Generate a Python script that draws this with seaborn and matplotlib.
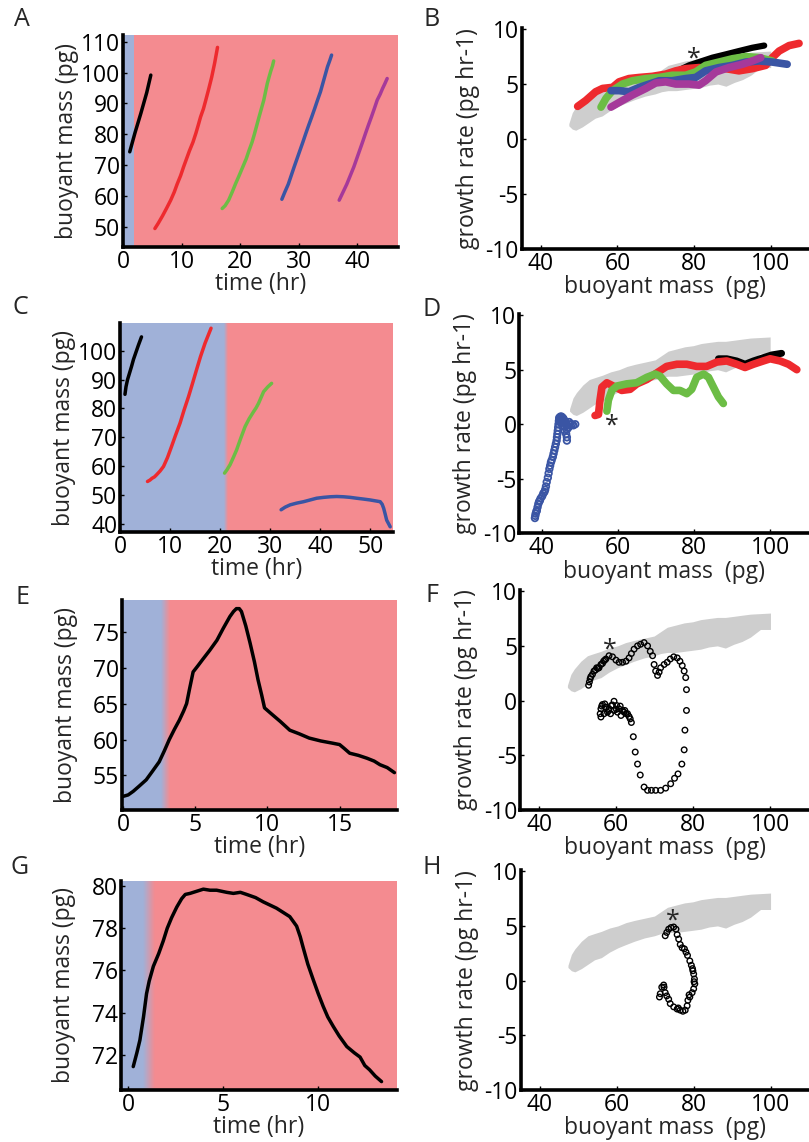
import numpy as np
import matplotlib
matplotlib.use("Agg")
import matplotlib.pyplot as plt
import seaborn as sns
from matplotlib.colors import LinearSegmentedColormap

# ---------------- data ----------------
# Panel A : time (hr) vs buoyant mass (pg)
a_black_t = [1.1, 2.0, 3.0, 4.0, 4.7]
a_black_m = [74.3, 80.5, 86.8, 93.5, 99.2]
a_red_t = [5.4, 6.0, 6.7, 7.4, 8.1, 8.7, 9.2, 9.8, 10.3, 10.8, 11.3, 11.9, 12.4, 12.8, 13.2,
           13.7, 14.1, 14.6, 15.1, 15.6, 16.1]
a_red_m = [49.4, 51.2, 53.5, 56.0, 58.6, 61.2, 63.8, 66.6, 69.4, 72.0, 74.6, 77.4, 80.3,
           82.9, 85.6, 88.3, 91.1, 94.7, 98.5, 103.0, 108.2]
a_green_t = [16.9, 17.4, 18.0, 18.6, 19.2, 19.8, 20.4, 21.0, 21.5, 22.0, 22.4, 22.8, 23.2,
             23.6, 24.0, 24.3, 24.6, 24.9, 25.2, 25.5, 25.7]
a_green_m = [55.9, 56.8, 58.6, 61.2, 64.0, 66.6, 69.3, 72.0, 74.8, 77.4, 80.0, 82.8, 85.6,
             88.3, 91.0, 93.7, 96.4, 98.5, 100.5, 102.2, 103.8]
a_blue_t = [27.1, 27.6, 28.2, 28.7, 29.2, 29.7, 30.2, 30.7, 31.2, 31.7, 32.2, 32.7, 33.2,
            33.7, 34.1, 34.5, 34.9, 35.3, 35.6]
a_blue_m = [58.9, 61.2, 63.8, 66.6, 69.4, 72.1, 74.8, 77.5, 80.3, 83.0, 85.6, 88.3, 91.1,
            93.8, 96.5, 99.2, 101.9, 104.0, 105.7]
a_mag_t = [36.9, 37.5, 38.2, 38.8, 39.4, 39.9, 40.4, 40.9, 41.4, 41.9, 42.4, 42.9, 43.4,
           43.9, 44.3, 44.7, 45.1]
a_mag_m = [58.6, 61.0, 63.8, 66.6, 69.4, 72.1, 74.8, 77.5, 80.3, 83.0, 85.6, 88.3, 91.1,
           93.0, 94.8, 96.4, 98.1]

# Panel C
c_black_t = [1.0, 1.2, 1.5, 1.9, 2.3, 2.7, 3.2, 3.7, 4.3]
c_black_m = [84.9, 87.5, 89.9, 92.2, 94.5, 97.0, 99.5, 102.0, 104.8]
c_red_t = [5.5, 6.0, 6.4, 6.9, 7.3, 8.0, 8.7, 9.5, 10.3, 11.1, 12.0, 12.8, 13.7, 14.5, 15.3,
           16.1, 17.0, 17.6, 18.2]
c_red_m = [54.7, 55.2, 55.8, 56.3, 57.0, 58.3, 59.9, 63.0, 66.8, 70.7, 74.9, 79.4, 84.1,
           88.7, 93.4, 98.0, 102.6, 105.2, 107.8]
c_green_t = [20.9, 21.4, 22.0, 22.6, 23.3, 24.1, 25.0, 25.8, 26.7, 27.2, 27.7, 28.2, 28.7,
             29.5, 30.3]
c_green_m = [57.6, 58.8, 60.5, 62.8, 65.6, 69.5, 73.7, 76.4, 78.9, 80.2, 81.8, 83.8, 85.8,
             87.4, 88.7]
c_blue_t = [32.2, 33.0, 34.0, 35.3, 36.7, 38.0, 39.3, 40.7, 42.0, 43.3, 44.7, 46.0, 47.3,
            48.7, 50.0, 51.0, 52.0, 52.4, 52.7, 53.0, 53.3, 53.7, 54.0]
c_blue_m = [44.9, 45.8, 46.6, 47.2, 47.7, 48.3, 48.9, 49.2, 49.4, 49.5, 49.4, 49.2, 48.9,
            48.6, 48.3, 48.0, 47.7, 46.8, 45.4, 43.4, 41.3, 40.0, 39.0]

# Panel E
e_t = [0.0, 0.35, 0.7, 1.1, 1.6, 2.0, 2.5, 2.85, 3.2, 3.55, 3.9, 4.2, 4.4, 4.6, 4.85, 5.2,
       5.5, 6.0, 6.5, 6.95, 7.4, 7.65, 7.85, 8.05, 8.2, 8.5, 8.8, 9.1, 9.35, 9.6,
       9.8, 10.2, 10.9, 11.55, 12.2, 12.9, 13.7, 14.5, 15.0, 15.3, 15.7, 16.3, 16.9, 17.4,
       17.8, 18.3, 18.8]
e_m = [52.1, 52.3, 52.8, 53.5, 54.4, 55.5, 56.9, 58.4, 60.0, 61.4, 62.7, 64.0, 65.0, 67.0,
       69.4, 70.3, 71.1, 72.4, 73.8, 75.5, 77.1, 77.8, 78.2, 78.2, 77.8, 75.8, 73.4, 70.8,
       68.3, 66.2, 64.4, 63.7, 62.5, 61.3, 60.8, 60.2, 59.8, 59.5, 59.3, 58.8, 58.1, 57.8,
       57.4, 57.0, 56.5, 56.1, 55.4]

# Panel G
g_t = [0.26, 0.45, 0.61, 0.8, 0.96, 1.1, 1.32, 1.6, 1.84, 2.05, 2.28, 2.55, 2.81, 3.0,
       3.25, 3.6, 3.95, 4.3, 4.65, 5.18, 5.53, 5.9, 6.23, 6.7, 7.1, 7.8, 8.5, 8.86, 9.05,
       9.2, 9.45, 9.74, 10.0, 10.26, 10.5, 10.79, 11.1, 11.5, 11.9, 12.2, 12.45, 12.7, 13.0,
       13.33]
g_m = [71.45, 72.1, 72.7, 73.8, 74.9, 75.5, 76.2, 76.8, 77.4, 78.0, 78.5, 79.0, 79.4,
       79.6, 79.65, 79.75, 79.85, 79.8, 79.8, 79.7, 79.65, 79.7, 79.6, 79.45, 79.25, 78.95,
       78.55, 78.1, 77.6, 77.1, 76.3, 75.55, 74.9, 74.3, 73.8, 73.35, 72.9, 72.4, 72.1,
       71.9, 71.5, 71.3, 71.0, 70.74]

# control band (growth rate vs buoyant mass)
band_mass = [47.3, 48.2, 49.1, 50.8, 52.5, 54.2, 56.0, 58.1, 60.3, 62.4, 64.6, 67.2, 69.8,
             71.5, 73.2, 75.4, 77.6, 79.8, 81.9, 84.0, 86.2, 88.3, 90.5, 92.6, 94.8, 97.4, 100.0]
band_low = [1.2, 0.9, 0.8, 1.1, 1.5, 1.9, 2.1, 2.6, 3.0, 3.3, 3.6, 3.9, 4.1,
            4.3, 4.4, 4.4, 4.5, 4.6, 4.7, 4.9, 5.0, 4.8, 5.15, 5.4, 5.8, 6.5, 6.5]
band_high = [1.4, 2.4, 2.9, 3.6, 4.1, 4.3, 4.5, 4.8, 5.0, 5.3, 5.5, 5.7, 5.9,
             6.3, 6.7, 6.9, 7.1, 7.2, 7.4, 7.5, 7.6, 7.6, 7.7, 7.8, 7.9, 7.95, 8.0]

# Panel B : buoyant mass vs growth rate
b_black_x = [75.7, 78.7, 81.3, 84.8, 88.3, 91.7, 95.2, 98.3]
b_black_y = [6.2, 6.7, 7.0, 7.4, 7.7, 8.0, 8.3, 8.5]
b_red_x = [49.6, 51.7, 54.3, 56.1, 58.7, 60.4, 63.0, 65.7, 69.1, 72.6, 75.2, 77.8, 81.3,
           84.8, 88.3, 91.7, 95.2, 98.7, 100.4, 102.2, 104.8, 107.4]
b_red_y = [2.97, 3.5, 4.3, 4.6, 4.7, 5.2, 5.5, 5.6, 5.7, 5.9, 6.2, 6.4, 6.5,
           6.4, 6.4, 6.2, 6.4, 6.7, 7.4, 8.0, 8.5, 8.7]
b_green_x = [55.7, 57.0, 58.7, 61.3, 63.9, 67.4, 70.9, 74.3, 77.8, 80.4, 83.0, 86.5, 90.0,
             93.5, 97.0, 100.4]
b_green_y = [2.9, 3.7, 4.4, 5.0, 5.3, 5.5, 5.6, 5.8, 5.8, 6.1, 6.7, 7.0, 7.3, 7.5, 7.4, 7.1]
b_blue_x = [58.3, 60.4, 63.0, 65.7, 68.3, 70.9, 74.3, 77.8, 80.4, 83.0, 86.5, 90.0, 93.5,
            97.0, 100.4, 104.3]
b_blue_y = [4.4, 4.4, 4.3, 4.7, 5.0, 5.3, 5.3, 5.5, 5.6, 6.2, 6.5, 6.7, 7.0, 7.1, 7.0, 6.8]
b_mag_x = [58.3, 61.3, 63.9, 67.4, 70.0, 72.6, 75.2, 78.7, 81.3, 83.0, 85.7, 89.1, 92.6,
           95.2, 97.4]
b_mag_y = [2.9, 3.5, 4.0, 4.6, 5.1, 5.2, 5.0, 5.0, 4.9, 5.3, 6.1, 6.5, 6.8, 7.1, 7.4]

# Panel D
d_red_x = [54.0, 54.9, 55.3, 55.8, 57.1, 58.8, 61.0, 63.2, 65.0, 67.6, 70.2, 72.8, 75.5,
           78.1, 80.7, 83.3, 86.0, 88.6, 91.2, 93.4, 95.6, 98.2, 100.0, 102.6, 104.8, 107.0]
d_red_y = [0.8, 0.9, 2.2, 3.4, 3.8, 3.5, 3.1, 3.2, 3.7, 4.1, 4.7, 5.3, 5.5,
           5.5, 5.3, 5.3, 5.7, 5.8, 5.5, 5.2, 5.5, 5.8, 6.0, 5.8, 5.5, 5.0]
d_black_x = [86.4, 88.6, 91.2, 93.4, 95.6, 98.2, 100.4, 103.0]
d_black_y = [6.0, 6.0, 5.8, 5.5, 5.8, 6.1, 6.35, 6.5]
d_green_x = [57.1, 57.5, 58.4, 59.7, 62.3, 64.9, 67.6, 69.8, 71.1, 72.8, 74.6, 76.3, 78.1,
             79.4, 80.7, 82.5, 83.8, 85.1, 86.4, 87.7]
d_green_y = [1.2, 2.2, 3.1, 3.5, 3.7, 3.8, 4.3, 4.6, 4.4, 3.7, 3.1, 3.1, 2.8,
             3.2, 4.3, 4.6, 4.3, 3.4, 2.5, 1.9]
d_blue_x = [38.2, 38.3, 38.4, 38.6, 38.7, 38.9, 39.1, 39.3, 39.5, 39.7, 40.1, 40.4, 40.7,
            40.9, 41.1, 41.3, 41.6, 41.8, 42.0, 42.2, 42.4, 42.6, 42.9, 43.1, 43.3, 43.5,
            43.7, 43.9, 44.0, 44.1, 44.2, 44.3, 44.4, 44.5, 44.6, 44.9, 45.2, 45.5, 45.7,
            46.1, 46.6, 46.6, 46.6, 46.6, 47.0, 47.4, 47.9, 48.3, 48.8, 44.8, 45.0, 45.3,
            45.5, 45.8, 46.0, 46.3, 46.4, 46.9, 47.2, 44.6, 45.1, 45.6, 46.2]
d_blue_y = [-8.6, -8.4, -8.2, -8.0, -7.9, -7.6, -7.3, -7.1, -7.0, -6.8, -6.6, -6.35, -6.2,
            -6.0, -5.7, -5.3, -4.9, -4.5, -4.1, -3.8, -3.5, -3.3, -3.0, -2.7, -2.4, -2.1,
            -1.8, -1.5, -1.2, -0.9, -0.6, -0.3, 0.0, 0.3, 0.6, 0.7, 0.7, 0.6, 0.5,
            0.3, -0.1, -0.5, -1.2, -1.5, -0.3, 0.0, 0.0, -0.1, 0.0, 0.4, 0.1, 0.3,
            -0.2, 0.2, -0.6, 0.0, -0.9, -0.3, 0.2, 0.5, 0.5, 0.4, 0.2]

# Panel F
f_x = [52.8, 53.0, 53.2, 53.4, 53.8, 54.2, 54.6, 54.9, 55.2, 55.5, 56.0, 56.4, 56.7, 57.0,
       57.3, 58.1, 59.0, 59.9, 60.7, 61.6, 62.5, 63.3, 63.9, 64.6, 65.5, 66.3, 67.2,
       68.1, 68.8, 69.4, 69.8, 70.2, 70.7, 71.1, 71.5, 72.4, 73.2, 74.0, 74.9, 75.8,
       76.5, 77.1, 77.6, 78.0, 78.2, 78.2, 77.8, 77.6, 77.0, 76.0, 75.1, 74.1, 72.8,
       71.5, 70.2, 69.1, 68.1, 67.2, 66.2, 65.5, 64.9, 64.4, 63.9, 63.3, 62.5, 61.6,
       60.7, 60.1, 59.4, 58.7, 58.1, 57.3, 56.4, 56.0, 55.8, 56.0, 56.8, 57.7, 58.5,
       59.4, 60.3, 61.2, 62.0, 62.9, 63.6, 56.2, 57.0, 58.0, 59.0, 60.0, 61.0, 62.2]
f_y = [1.4, 1.7, 2.0, 2.2, 2.4, 2.7, 2.8, 3.0, 2.95, 3.0, 3.3, 3.4, 3.6, 3.7,
       3.8, 4.1, 4.0, 3.7, 3.5, 3.5, 3.6, 3.9, 4.3, 4.7, 5.0, 5.15, 5.3,
       5.0, 4.5, 4.1, 3.3, 2.7, 2.3, 2.6, 3.0, 3.3, 3.5, 3.8, 4.0, 3.9,
       3.6, 3.2, 2.7, 2.1, 1.0, -0.9, -2.7, -4.5, -5.8, -6.7, -7.1, -7.6, -8.0,
       -8.2, -8.2, -8.2, -8.2, -7.9, -6.8, -5.8, -4.7, -3.3, -2.0, -1.45, -1.2, -0.9,
       -0.75, -0.45, -0.06, -0.45, -0.75, -0.6, -0.36, -0.75, -1.2, -1.5, -1.2, -1.06, -1.2,
       -0.9, -1.06, -1.36, -1.06, -1.2, -1.67, -0.5, -0.3, -0.9, -0.4, -0.8, -0.5, -0.9]

# Panel H
h_x = [72.6, 73.0, 73.5, 74.1, 74.8, 75.4, 75.7, 76.1, 76.5, 77.0, 77.6, 78.0, 78.4, 79.0,
       79.4, 79.7, 80.0, 80.2, 80.3, 80.0, 79.6, 79.0, 78.5, 78.3, 77.8, 77.2, 76.5, 75.7,
       74.8, 73.9, 73.5, 73.0, 72.6, 72.3, 72.2, 71.7, 71.3, 71.1, 79.8, 80.1, 78.8, 76.0]
h_y = [4.1, 4.4, 4.7, 4.85, 4.9, 4.7, 4.2, 3.8, 3.3, 3.0, 2.9, 2.6, 2.3, 1.8,
       1.4, 1.1, 0.6, 0.15, -0.3, -0.75, -1.1, -1.5, -1.8, -2.3, -2.7, -2.8, -2.7, -2.6,
       -2.4, -2.1, -1.7, -1.4, -1.1, -0.6, -0.4, -0.6, -1.2, -1.5, 0.9, -0.1, -1.3, -2.5]

# asterisk positions (mass, growth rate)
star_b = (80.0, 7.9)
star_d = (58.4, 0.5)
star_f = (58.4, 5.3)
star_h = (74.6, 6.1)

# ---------------- style ----------------
sns.set_style("ticks")
plt.rcParams['font.family'] = ['Open Sans', 'DejaVu Sans']
plt.rcParams['axes.unicode_minus'] = False

RED = '#EE2A2E'
GREEN = '#6CBD45'
BLUE = '#3A55A4'
MAG = '#A5399A'
BG_BLUE = '#A0B1D8'
BG_RED = '#F48B90'
BAND = '#CECECE'
FS = 16.5

bg_cmap = LinearSegmentedColormap.from_list('bg', [BG_BLUE, BG_RED])

fig = plt.figure(figsize=(8.09, 11.42), dpi=100)


def style(ax, xlim, ylim, xticks, yticks, xlabel, ylabel, ylab_x):
    ax.set_xlim(*xlim)
    ax.set_ylim(*ylim)
    ax.set_xticks(xticks)
    ax.set_yticks(yticks)
    sns.despine(ax=ax)
    for s in ('left', 'bottom'):
        ax.spines[s].set_linewidth(2.6)
        ax.spines[s].set_color('black')
    ax.tick_params(direction='in', length=3, width=1, labelsize=FS, pad=2, colors='black')
    ax.set_xlabel(xlabel, fontsize=FS)
    ax.set_ylabel(ylabel, fontsize=FS)
    ax.xaxis.set_label_coords(0.5, -0.12)
    ax.xaxis.label.set_va('top')
    ax.yaxis.set_label_coords(ylab_x, 0.5)


def background(ax, blue_end, red_start, xlim, ylim):
    ax.axvspan(xlim[0], blue_end, color=BG_BLUE, lw=0, zorder=0)
    ax.axvspan(red_start, xlim[1], color=BG_RED, lw=0, zorder=0)
    if red_start > blue_end:
        grad = np.linspace(0, 1, 64).reshape(1, -1)
        ax.imshow(grad, extent=[blue_end, red_start, ylim[0], ylim[1]], aspect='auto',
                  cmap=bg_cmap, zorder=0, interpolation='bilinear')


def line(ax, x, y, color, lw=2.5):
    sns.lineplot(x=x, y=y, sort=False, estimator=None, color=color, lw=lw, ax=ax,
                 solid_capstyle='round', solid_joinstyle='round', zorder=3)


def circles(ax, x, y, color, s=14, lw=0.9):
    ax.scatter(x, y, s=s, facecolors='none', edgecolors=color, linewidths=lw, zorder=4)


def band(ax):
    ax.fill_between(band_mass, band_low, band_high, color=BAND, lw=0, zorder=1)


def star(ax, pos):
    ax.annotate('*', xy=pos, xytext=(0, -10), textcoords='offset points',
                ha='center', va='baseline', fontsize=18, zorder=6)


left_x = 'time (hr)'
left_y = 'buoyant mass (pg)'
right_x = 'buoyant mass  (pg)'
right_y = 'growth rate (pg hr-1)'
r_xlim = (35, 110)
r_ylim = (-10, 10.1)
r_xt = [40, 60, 80, 100]
r_yt = [-10, -5, 0, 5, 10]

# ---- A ----
axA = fig.add_axes([0.1517, 0.7837, 0.3399, 0.1856])
xl, yl = (-0.1, 46.9), (43.4, 112.2)
background(axA, 1.9, 1.9, xl, yl)
line(axA, a_black_t, a_black_m, 'black')
line(axA, a_red_t, a_red_m, RED)
line(axA, a_green_t, a_green_m, GREEN)
line(axA, a_blue_t, a_blue_m, BLUE)
line(axA, a_mag_t, a_mag_m, MAG)
style(axA, xl, yl, [0, 10, 20, 30, 40], [50, 60, 70, 80, 90, 100, 110], left_x, left_y, -0.16)

# ---- B ----
axB = fig.add_axes([0.6449, 0.7820, 0.3551, 0.1935])
band(axB)
line(axB, b_black_x, b_black_y, 'black', lw=4.5)
line(axB, b_red_x, b_red_y, RED, lw=5.5)
line(axB, b_green_x, b_green_y, GREEN, lw=5.5)
line(axB, b_blue_x, b_blue_y, BLUE, lw=5.5)
line(axB, b_mag_x, b_mag_y, MAG, lw=5.5)
star(axB, star_b)
style(axB, r_xlim, r_ylim, r_xt, r_yt, right_x, right_y, -0.145)

# ---- C ----
axC = fig.add_axes([0.1483, 0.5339, 0.3371, 0.1835])
xl, yl = (0, 54.5), (37.1, 109.7)
background(axC, 20.8, 21.5, xl, yl)
line(axC, c_black_t, c_black_m, 'black')
line(axC, c_red_t, c_red_m, RED)
line(axC, c_green_t, c_green_m, GREEN)
line(axC, c_blue_t, c_blue_m, BLUE)
style(axC, xl, yl, [0, 10, 20, 30, 40, 50], [40, 50, 60, 70, 80, 90, 100], left_x, left_y, -0.16)

# ---- D ----
axD = fig.add_axes([0.6419, 0.5330, 0.3581, 0.1920])
band(axD)
line(axD, d_black_x, d_black_y, 'black', lw=5)
line(axD, d_red_x, d_red_y, RED, lw=5.5)
line(axD, d_green_x, d_green_y, GREEN, lw=5.5)
circles(axD, d_blue_x, d_blue_y, BLUE, s=22, lw=1.3)
star(axD, star_d)
style(axD, (34.1, 110.2), r_ylim, r_xt, r_yt, right_x, right_y, -0.145)

# ---- E ----
axE = fig.add_axes([0.1504, 0.2907, 0.3407, 0.1839])
xl, yl = (-0.1, 19.0), (50.2, 79.4)
background(axE, 2.6, 3.2, xl, yl)
line(axE, e_t, e_m, 'black')
style(axE, xl, yl, [0, 5, 10, 15], [55, 60, 65, 70, 75], left_x, left_y, -0.16)

# ---- F ----
axF = fig.add_axes([0.6428, 0.2907, 0.3572, 0.1926])
band(axF)
circles(axF, f_x, f_y, 'black', s=16, lw=1.0)
star(axF, star_f)
style(axF, r_xlim, r_ylim, r_xt, r_yt, right_x, right_y, -0.145)

# ---- G ----
axG = fig.add_axes([0.1492, 0.0455, 0.3419, 0.1833])
xl, yl = (-0.4, 14.16), (70.34, 80.25)
background(axG, 0.8, 1.4, xl, yl)
line(axG, g_t, g_m, 'black')
style(axG, xl, yl, [0, 5, 10], [72, 74, 76, 78, 80], left_x, left_y, -0.16)

# ---- H ----
axH = fig.add_axes([0.6436, 0.0455, 0.3564, 0.1926])
band(axH)
circles(axH, h_x, h_y, 'black', s=16, lw=1.0)
star(axH, star_h)
style(axH, r_xlim, r_ylim, r_xt, r_yt, right_x, right_y, -0.145)

# panel letters
for letter, (px, py) in zip('ABCDEFGH', [(22, 20), (432, 20), (20, 308), (432, 310),
                                         (22, 598), (432, 596), (20, 868), (432, 868)]):
    fig.text(px / 809, 1 - py / 1142, letter, fontsize=18, ha='center', va='center')

fig.savefig('out.png', dpi=100)
